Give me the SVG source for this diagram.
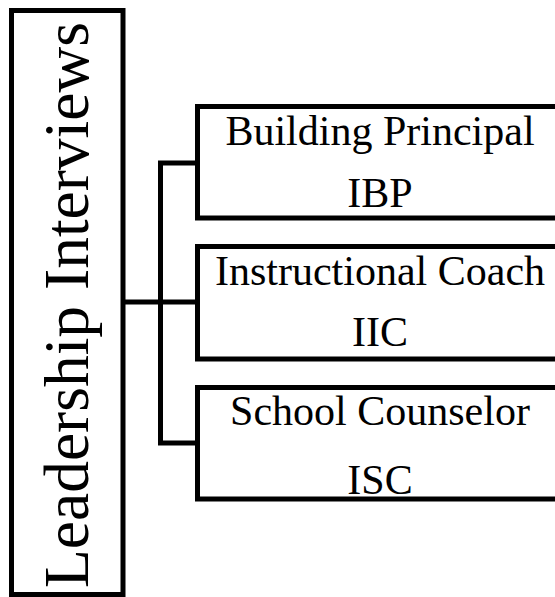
<svg xmlns="http://www.w3.org/2000/svg" width="555" height="597" viewBox="0 0 555 597">
<style>
.box{fill:#fff;stroke:#000;stroke-width:5}
.ln{fill:none;stroke:#000;stroke-width:5;stroke-linejoin:miter}
.t{font-family:"Liberation Serif","Times New Roman",serif;font-size:42px;fill:#000;text-anchor:middle}
.tl{font-family:"Liberation Serif","Times New Roman",serif;font-size:63.5px;fill:#000;text-anchor:middle}
</style>
<rect width="555" height="597" fill="#fff"/>
<g id="connectors">
<path class="ln" d="M123 302 H197.5"/>
<path class="ln" d="M197.5 163 H160.5 V443 H197.5"/>
</g>
<g id="leadership">
<rect class="box" x="11.5" y="10.5" width="111.5" height="584"/>
<text class="tl" transform="translate(88,305) rotate(-90)">Leadership Interviews</text>
</g>
<g id="ibp">
<rect class="box" x="197.5" y="106.5" width="370" height="111.5"/>
<text class="t" x="380" y="145">Building Principal</text>
<text class="t" x="380" y="207">IBP</text>
</g>
<g id="iic">
<rect class="box" x="197.5" y="246.5" width="370" height="112.5"/>
<text class="t" x="380" y="285">Instructional Coach</text>
<text class="t" x="380" y="346">IIC</text>
</g>
<g id="isc">
<rect class="box" x="197.5" y="387.5" width="370" height="111.5"/>
<text class="t" x="380" y="425">School Counselor</text>
<text class="t" x="380" y="494">ISC</text>
</g>
</svg>
